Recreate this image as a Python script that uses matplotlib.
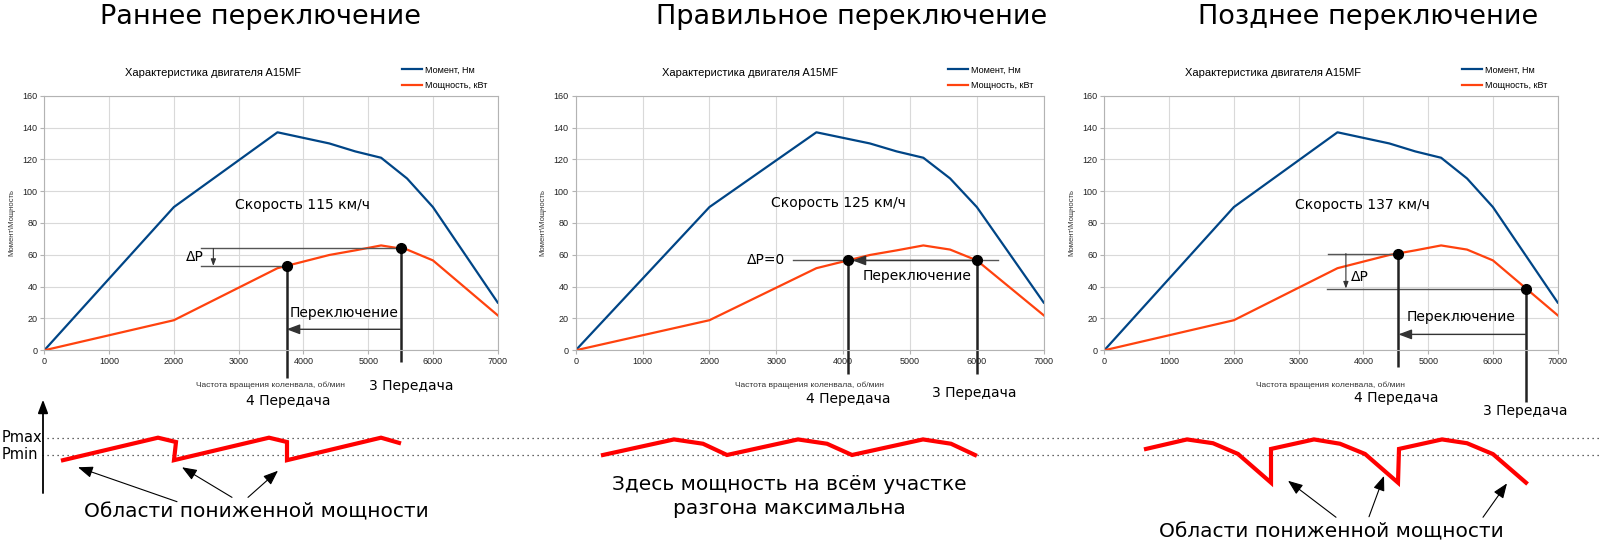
import matplotlib
matplotlib.use('Agg')
import matplotlib.pyplot as plt

W, H = 1600, 542

# engine characteristic
rpm = [0, 2000, 3600, 4400, 4800, 5200, 5600, 6000, 7000]
torque = [0, 90, 137, 130, 125, 121, 108, 90, 30]
power = [0, 18.9, 51.6, 59.9, 62.8, 65.9, 63.3, 56.5, 22]

panel_titles = ["Раннее переключение", "Правильное переключение", "Позднее переключение"]
speeds = ["Скорость 115 км/ч", "Скорость 125 км/ч", "Скорость 137 км/ч"]

# shift points: (rpm, power) for 4th gear after shift and 3rd gear before shift
gear4_pts = [(3740, 53.0), (4080, 56.5), (4540, 60.8)]
gear3_pts = [(5500, 64.0), (6000, 56.5), (6510, 38.8)]

# schematic power vs time below charts (Pmin = 0, Pmax = 1)
early_t = [63, 158, 176, 174, 269, 287, 287, 381, 399]
early_p = [-0.3, 1.0, 0.75, -0.3, 1.0, 0.75, -0.3, 1.0, 0.7]
normal_t = [603, 674, 703, 727, 798, 827, 852, 923, 951, 975]
normal_p = [0, 0.9, 0.65, 0, 0.9, 0.65, 0, 0.9, 0.65, 0]
late_t = [1146, 1187, 1213, 1238, 1271, 1271, 1314, 1340, 1365, 1398, 1399,
          1442, 1467, 1493, 1526]
late_p = [0.35, 0.9, 0.68, 0.06, -1.6, 0.35, 0.9, 0.65, 0.06, -1.6, 0.35,
          0.9, 0.68, 0.05, -1.6]

BLUE = '#004586'
ORANGE = '#ff420e'
GRID = '#d9d9d9'
AXC = '#b3b3b3'

fig = plt.figure(figsize=(W / 100, H / 100), dpi=100)
fig.patch.set_facecolor('white')


def px_axes(x0, x1, y0, y1):
    return fig.add_axes([x0 / W, 1 - y1 / H, (x1 - x0) / W, (y1 - y0) / H])


panels = [
    dict(x0=44.3, x1=497.7, title_x=213, leg_r=492, big_x=260),
    dict(x0=575.7, x1=1043.7, title_x=750, leg_r=1038, big_x=852),
    dict(x0=1104.3, x1=1557.7, title_x=1273, leg_r=1552, big_x=1368),
]

axes = []
for i, p in enumerate(panels):
    ax = px_axes(p['x0'], p['x1'], 95.7, 350.3)
    ax.plot(rpm, torque, color=BLUE, lw=1.6, label='Момент, Нм')
    ax.plot(rpm, power, color=ORANGE, lw=1.6, label='Мощность, кВт')
    ax.set_xlim(0, 7000)
    ax.set_ylim(0, 160)
    ax.set_xticks(range(0, 7001, 1000))
    ax.set_yticks(range(0, 161, 20))
    ax.grid(True, color=GRID, lw=0.8)
    ax.set_axisbelow(True)
    for s in ax.spines.values():
        s.set_color(AXC)
        s.set_linewidth(0.8)
    ax.tick_params(colors=AXC, labelcolor='#222222', labelsize=6.5,
                   length=3, width=0.8, pad=2)
    for lab in ax.get_xticklabels() + ax.get_yticklabels():
        lab.set_family('Liberation Sans')
    ax.set_xlabel('Частота вращения коленвала, об/мин', fontsize=6,
                  color='#333333', family='Liberation Sans', labelpad=11)
    ax.set_ylabel('Момент\\Мощность', fontsize=5.5, color='#333333',
                  family='Liberation Sans', labelpad=5)
    ax.legend(loc='upper right', bbox_to_anchor=(p['leg_r'] / W, 1 - 61 / H),
              bbox_transform=fig.transFigure, frameon=False,
              handlelength=2.3, handletextpad=0.3, labelspacing=0.75,
              borderpad=0, prop={'family': 'Liberation Sans', 'size': 6.5})
    fig.text(p['title_x'] / W, 1 - 73 / H, 'Характеристика двигателя A15MF',
             ha='center', va='center', fontsize=8, family='Liberation Sans')
    fig.text(p['big_x'] / W, 1 - 17 / H, panel_titles[i],
             ha='center', va='center', fontsize=19.5)
    axes.append(ax)

txt = dict(fontsize=10, ha='center', va='center')
lk = dict(color='#222222', lw=1.8, clip_on=False, solid_capstyle='butt')
thin = dict(color='#555555', lw=1.0, clip_on=False)
arr = dict(arrowstyle='-|>,head_length=0.8,head_width=0.3', color='#333333',
           lw=1.0, shrinkA=0, shrinkB=0)
tick_arr = dict(arrowstyle='-|>,head_length=0.4,head_width=0.15',
                color='#333333', lw=0.8, shrinkA=0, shrinkB=0)

# --- panel 1: early shift ---
ax = axes[0]
(x4, p4), (x3, p3) = gear4_pts[0], gear3_pts[0]
ax.text(3990, 91, speeds[0], **txt)
ax.plot([2420, x3], [p3, p3], **thin)
ax.plot([2420, x4], [p4, p4], **thin)
ax.annotate('', xy=(2610, p4), xytext=(2610, p3), arrowprops=tick_arr)
ax.text(2330, 58.5, 'ΔP', **txt)
ax.plot([x4, x4], [p4, -17.4], **lk)
ax.plot([x3, x3], [p3, -7.5], **lk)
ax.annotate('', xy=(x4, 13.2), xytext=(x3, 13.2), arrowprops=arr)
ax.text(4630, 23.5, 'Переключение', **txt)
ax.plot([x4, x3], [p4, p3], 'o', color='black', ms=7, clip_on=False, zorder=5)
ax.text(3760, -31.7, '4 Передача', **txt, clip_on=False)
ax.text(5660, -22.4, '3 Передача', **txt, clip_on=False)

# --- panel 2: correct shift ---
ax = axes[1]
(x4, p4), (x3, p3) = gear4_pts[1], gear3_pts[1]
ax.text(3935, 92.4, speeds[1], **txt)
ax.plot([3255, 6320], [p3, p3], **thin)
ax.annotate('', xy=(x4 + 60, p4), xytext=(x3, p3), arrowprops=arr)
ax.text(2850, p3, 'ΔP=0', **txt)
ax.text(5100, 46.9, 'Переключение', **txt)
ax.plot([x4, x4], [p4, -15], **lk)
ax.plot([x3, x3], [p3, -15], **lk)
ax.plot([x4, x3], [p4, p3], 'o', color='black', ms=7, clip_on=False, zorder=5)
ax.text(4070, -30.6, '4 Передача', **txt, clip_on=False)
ax.text(5960, -27, '3 Передача', **txt, clip_on=False)

# --- panel 3: late shift ---
ax = axes[2]
(x4, p4), (x3, p3) = gear4_pts[2], gear3_pts[2]
ax.text(3990, 91, speeds[2], **txt)
ax.plot([3460, x4], [p4, p4], **thin)
ax.plot([3435, x3], [p3, p3], **thin)
ax.annotate('', xy=(3730, p3), xytext=(3730, p4), arrowprops=tick_arr)
ax.text(3950, 46.3, 'ΔP', **txt)
ax.plot([x4, x4], [p4, -10.3], **lk)
ax.plot([x3, x3], [p3, -32.4], **lk)
ax.annotate('', xy=(x4, 10), xytext=(x3, 10), arrowprops=arr)
ax.text(5515, 20.7, 'Переключение', **txt)
ax.plot([x4, x3], [p4, p3], 'o', color='black', ms=7, clip_on=False, zorder=5)
ax.text(4505, -30, '4 Передача', **txt, clip_on=False)
ax.text(6500, -38.2, '3 Передача', **txt, clip_on=False)

# --- bottom schematic strip ---
bx = px_axes(0, W, 380, H)
bx.set_xlim(0, W)
bx.set_ylim(-5.03, 4.335)
bx.axis('off')
for lvl, name in [(1, 'Pmax'), (0, 'Pmin')]:
    bx.plot([42, W], [lvl, lvl], ls=(0, (1, 3)), color='#333333', lw=0.9)
    bx.text(2, lvl, name, ha='left', va='center', fontsize=10.5)
bx.annotate('', xy=(43, 3.2), xytext=(43, -2.2),
            arrowprops=dict(arrowstyle='-|>,head_length=0.8,head_width=0.3',
                            color='black', lw=1.3, shrinkA=0, shrinkB=0))
for t, pw in [(early_t, early_p), (normal_t, normal_p), (late_t, late_p)]:
    bx.plot(t, pw, color='#ff0000', lw=3, solid_joinstyle='miter')

small_arr = dict(arrowstyle='-|>,head_length=0.9,head_width=0.35',
                 color='black', lw=0.8, shrinkA=0, shrinkB=0)
bx.text(256, -3.28, 'Области пониженной мощности', ha='center', va='center',
        fontsize=14.5)
for (xs, ys), (xe, ye) in [((177, -2.7), (78, -0.71)),
                           ((232, -2.45), (182, -0.71)),
                           ((248, -2.45), (278, -0.91))]:
    bx.annotate('', xy=(xe, ye), xytext=(xs, ys), arrowprops=small_arr)

bx.text(789, -1.68, 'Здесь мощность на всём участке', ha='center',
        va='center', fontsize=14.5)
bx.text(789, -3.12, 'разгона максимальна', ha='center', va='center',
        fontsize=14.5)

bx.text(1331, -4.43, 'Области пониженной мощности', ha='center',
        va='center', fontsize=14.5)
for (xs, ys), (xe, ye) in [((1336, -3.6), (1288, -1.49)),
                           ((1369, -3.57), (1384, -1.21)),
                           ((1483, -3.6), (1507, -1.64))]:
    bx.annotate('', xy=(xe, ye), xytext=(xs, ys), arrowprops=small_arr)

fig.savefig('out.png', dpi=100, facecolor='white')
